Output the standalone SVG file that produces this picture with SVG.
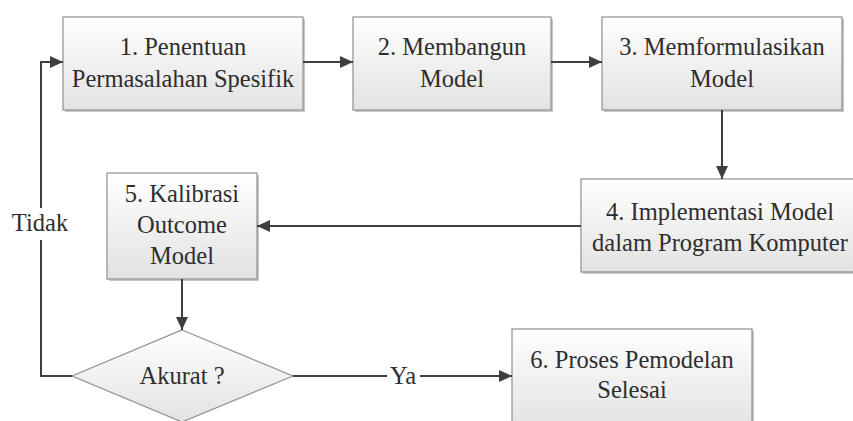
<svg xmlns="http://www.w3.org/2000/svg" width="853" height="421" viewBox="0 0 853 421" font-family="'Liberation Serif', 'Times New Roman', serif">
<style>
.box{fill:url(#g);stroke:#8f8f8f;stroke-width:1.2}
.sh{fill:#c8c8c8}
.t{font-size:24.5px;fill:#2e2e2e;text-anchor:middle}
.c{fill:none;stroke:#3f3f3f;stroke-width:2}
</style>
<defs>
<linearGradient id="g" x1="0" y1="0" x2="0" y2="1">
<stop offset="0" stop-color="#ffffff"/>
<stop offset="1" stop-color="#e2e2e2"/>
</linearGradient>
<marker id="ah" markerUnits="userSpaceOnUse" markerWidth="14" markerHeight="12" refX="13" refY="6" orient="auto">
<path d="M0,0 L13,6 L0,12 z" fill="#3f3f3f"/>
</marker>
</defs>
<rect width="853" height="421" fill="#ffffff"/>
<g id="n1">
<rect class="sh" x="65" y="19" width="240" height="93"/>
<rect class="box" x="63" y="17" width="240" height="93"/>
<text class="t" style="font-family:'Liberation Serif','Times New Roman',serif" x="183" y="55">1. Penentuan</text>
<text class="t" style="font-family:'Liberation Serif','Times New Roman',serif" x="183" y="87">Permasalahan Spesifik</text>
</g>
<g id="n2">
<rect class="sh" x="355" y="19" width="198" height="93"/>
<rect class="box" x="353" y="17" width="198" height="93"/>
<text class="t" style="font-family:'Liberation Serif','Times New Roman',serif" x="452" y="55">2. Membangun</text>
<text class="t" style="font-family:'Liberation Serif','Times New Roman',serif" x="452" y="87">Model</text>
</g>
<g id="n3">
<rect class="sh" x="604" y="19" width="240" height="93"/>
<rect class="box" x="602" y="17" width="240" height="93"/>
<text class="t" style="font-family:'Liberation Serif','Times New Roman',serif" x="722" y="55">3. Memformulasikan</text>
<text class="t" style="font-family:'Liberation Serif','Times New Roman',serif" x="722" y="87">Model</text>
</g>
<g id="n4">
<rect class="sh" x="583" y="181" width="280" height="93"/>
<rect class="box" x="581" y="179" width="280" height="93"/>
<text class="t" style="font-family:'Liberation Serif','Times New Roman',serif" x="720" y="220">4. Implementasi Model</text>
<text class="t" style="font-family:'Liberation Serif','Times New Roman',serif" x="720" y="251">dalam Program Komputer</text>
</g>
<g id="n5">
<rect class="sh" x="109" y="175" width="150" height="106"/>
<rect class="box" x="107" y="173" width="150" height="106"/>
<text class="t" style="font-family:'Liberation Serif','Times New Roman',serif" x="182" y="202">5. Kalibrasi</text>
<text class="t" style="font-family:'Liberation Serif','Times New Roman',serif" x="182" y="233">Outcome</text>
<text class="t" style="font-family:'Liberation Serif','Times New Roman',serif" x="182" y="264">Model</text>
</g>
<g id="n6">
<rect class="sh" x="514" y="331" width="240" height="100"/>
<rect class="box" x="512" y="329" width="240" height="100"/>
<text class="t" style="font-family:'Liberation Serif','Times New Roman',serif" x="632" y="368">6. Proses Pemodelan</text>
<text class="t" style="font-family:'Liberation Serif','Times New Roman',serif" x="632" y="398">Selesai</text>
</g>
<g id="d1">
<polygon points="182,330 293,376 182,422 72,376" fill="url(#g)" stroke="#8f8f8f" stroke-width="1.2"/>
<text class="t" style="font-family:'Liberation Serif','Times New Roman',serif" x="182" y="384">Akurat ?</text>
</g>
<g id="connectors">
<line class="c" x1="303" y1="62" x2="353" y2="62" marker-end="url(#ah)"/>
<line class="c" x1="551" y1="62" x2="602" y2="62" marker-end="url(#ah)"/>
<line class="c" x1="722" y1="110" x2="722" y2="179" marker-end="url(#ah)"/>
<line class="c" x1="581" y1="226" x2="257" y2="226" marker-end="url(#ah)"/>
<line class="c" x1="182" y1="279" x2="182" y2="330" marker-end="url(#ah)"/>
<line class="c" x1="293" y1="376" x2="512" y2="376" marker-end="url(#ah)"/>
<polyline class="c" points="72,376 41,376 41,62 63,62" marker-end="url(#ah)"/>
<rect x="387" y="362" width="33" height="26" fill="#ffffff"/>
<text class="t" style="font-family:'Liberation Serif','Times New Roman',serif" x="403" y="384">Ya</text>
<rect x="10" y="208" width="62" height="32" fill="#ffffff"/>
<text class="t" style="font-family:'Liberation Serif','Times New Roman',serif" x="40" y="231">Tidak</text>
</g>
</svg>
